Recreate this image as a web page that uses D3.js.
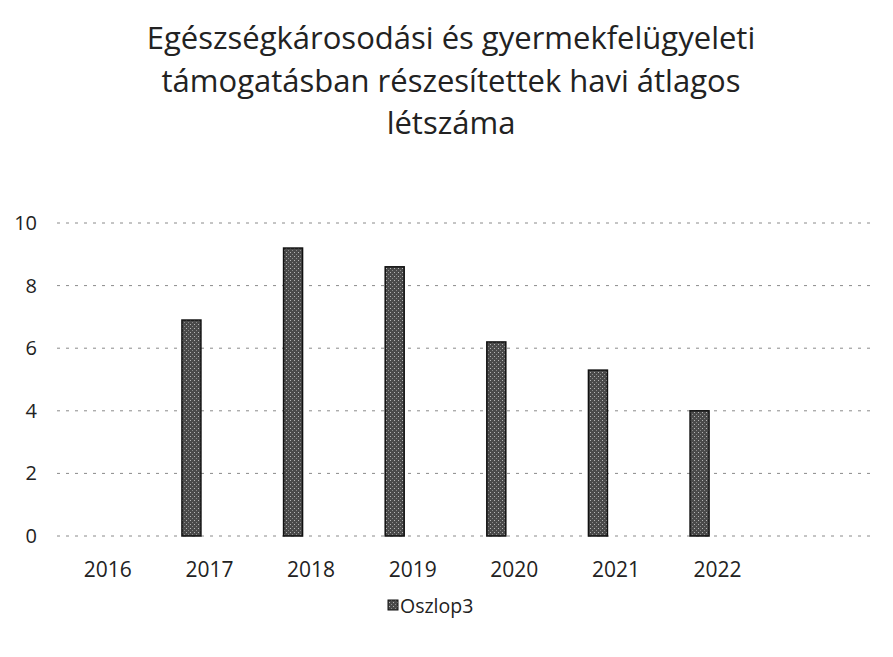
<!DOCTYPE html>
<html>
<head>
<meta charset="utf-8">
<script src="https://cdn.jsdelivr.net/npm/d3@7"></script>
<style>
  body { margin: 0; background: #fff; }
  text { font-family: "Open Sans", "Noto Sans", sans-serif; fill: #222; }
</style>
</head>
<body>
<div id="wrapper"></div>
<script>
const titleLines = [
  "Egészségkárosodási és gyermekfelügyeleti",
  "támogatásban részesítettek havi átlagos",
  "létszáma"
]
const years = ["2016", "2017", "2018", "2019", "2020", "2021", "2022", ""]
const oszlop3 = [null, 6.9, 9.2, 8.6, 6.2, 5.3, 4.0, null]
const yTicks = [0, 2, 4, 6, 8, 10]
const seriesName = "Oszlop3"

function drawBars() {
  const dataset = years.map((y, i) => ({ year: y, value: oszlop3[i], key: i }))
  const xAccessor = d => d.key
  const yAccessor = d => d.value

  // dimensions
  let dimensions = {
    width: 893,
    height: 657,
    margin: { top: 223, right: 23, bottom: 121, left: 57 },
  }
  dimensions.boundedWidth = dimensions.width - dimensions.margin.left - dimensions.margin.right
  dimensions.boundedHeight = dimensions.height - dimensions.margin.top - dimensions.margin.bottom

  const wrapper = d3.select("#wrapper")
    .append("svg")
      .attr("width", dimensions.width)
      .attr("height", dimensions.height)

  const defs = wrapper.append("defs")
  const pat = defs.append("pattern")
      .attr("id", "grain")
      .attr("width", 4)
      .attr("height", 4)
      .attr("patternUnits", "userSpaceOnUse")
  pat.append("rect").attr("width", 4).attr("height", 4).attr("fill", "#4a4a4a")
  pat.append("rect").attr("x", 1).attr("y", 1).attr("width", 1).attr("height", 1).attr("fill", "#b5b5b5")
  pat.append("rect").attr("x", 3).attr("y", 3).attr("width", 1).attr("height", 1).attr("fill", "#8a8a8a")

  // title
  wrapper.append("text")
      .attr("x", 451)
      .attr("y", 49)
      .attr("text-anchor", "middle")
      .style("font-size", "31px")
    .selectAll("tspan")
    .data(titleLines)
    .enter().append("tspan")
      .attr("x", 451)
      .attr("dy", (d, i) => i ? 42.5 : 0)
      .text(d => d)

  const bounds = wrapper.append("g")
    .attr("transform", `translate(${dimensions.margin.left}, ${dimensions.margin.top})`)

  // scales
  const xScale = d3.scaleBand()
    .domain(dataset.map(xAccessor))
    .range([0, dimensions.boundedWidth])

  const yScale = d3.scaleLinear()
    .domain([0, 10])
    .range([dimensions.boundedHeight, 0])

  // gridlines
  bounds.append("g")
    .selectAll("line")
    .data(yTicks)
    .enter().append("line")
      .attr("x1", 0)
      .attr("x2", dimensions.boundedWidth)
      .attr("y1", d => yScale(d))
      .attr("y2", d => yScale(d))
      .attr("stroke", "#8a8a8a")
      .attr("stroke-width", 1)
      .attr("stroke-dasharray", "3 6")

  // bars
  const barWidth = 19
  const barShift = -18
  bounds.selectAll(".bar")
    .data(dataset.filter(d => yAccessor(d) != null))
    .enter().append("rect")
      .attr("class", "bar")
      .attr("x", d => xScale(xAccessor(d)) + xScale.bandwidth() / 2 + barShift - barWidth / 2)
      .attr("y", d => yScale(yAccessor(d)))
      .attr("width", barWidth)
      .attr("height", d => dimensions.boundedHeight - yScale(yAccessor(d)))
      .attr("fill", "url(#grain)")
      .attr("stroke", "#111")
      .attr("stroke-width", 1.5)

  // axes
  const yAxis = bounds.append("g")
    .call(d3.axisLeft(yScale).tickValues(yTicks).tickSize(0).tickPadding(20))
  yAxis.select(".domain").remove()
  yAxis.selectAll("text")
      .style("font-size", "20px")
      .style("font-family", "\"Open Sans\", sans-serif")
      .attr("fill", "#222")

  const xAxis = bounds.append("g")
      .attr("transform", `translate(0, ${dimensions.boundedHeight})`)
    .call(d3.axisBottom(xScale).tickFormat(k => years[k]).tickSize(0).tickPadding(26))
  xAxis.select(".domain").remove()
  xAxis.selectAll("text")
      .style("font-size", "21px")
      .style("font-family", "\"Open Sans\", sans-serif")
      .attr("fill", "#222")

  // legend
  const legend = wrapper.append("g")
      .attr("transform", "translate(388, 613)")
  legend.append("rect")
      .attr("x", 0)
      .attr("y", -13)
      .attr("width", 10)
      .attr("height", 10)
      .attr("fill", "url(#grain)")
      .attr("stroke", "#111")
  legend.append("text")
      .attr("x", 12)
      .attr("y", 0)
      .style("font-size", "19.5px")
      .text(seriesName)
}
drawBars()
</script>
</body>
</html>
